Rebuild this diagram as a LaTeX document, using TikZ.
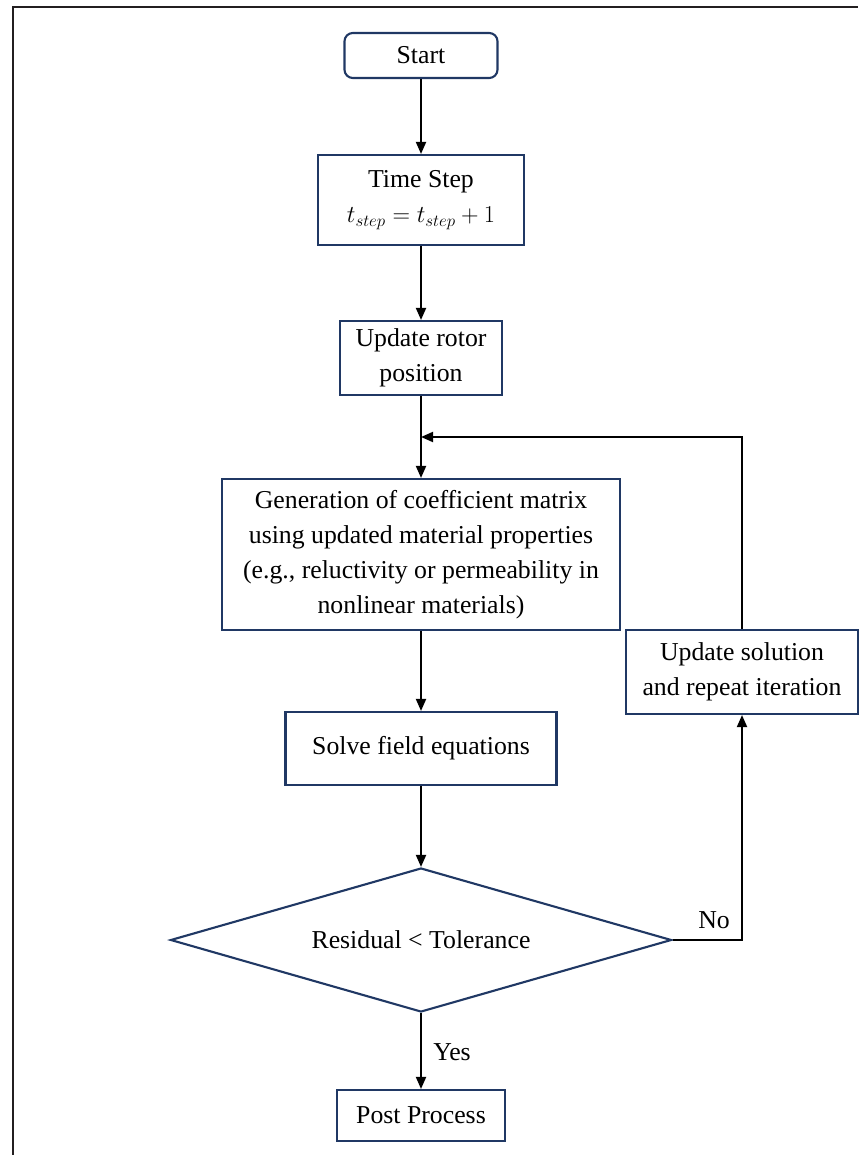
\documentclass[tikz,border=0pt]{standalone}
\usepackage{fontspec}
\setmainfont{Liberation Serif}
\usetikzlibrary{shapes.geometric,arrows.meta}
\definecolor{boxline}{HTML}{203864}
\definecolor{frameline}{HTML}{231F20}

\begin{document}
\begin{tikzpicture}[x=0.03cm, y=-0.03cm, >={Triangle[length=0.36cm,width=0.3cm]},
    box/.style={draw=boxline, line width=1.8pt, fill=white, align=center, inner sep=2pt, font=\fontsize{22}{30}\selectfont},
    flow/.style={->, line width=1.6pt, color=black},
    lbl/.style={font=\fontsize{22}{30}\selectfont}]
    \useasboundingbox (0,0) rectangle (858,1155);
    \draw[line width=2.4pt, color=frameline] (13,1155) -- (13,7) -- (858,7);

    % main column
    \node[box, rounded corners=0.25cm, minimum width=4.59cm, minimum height=1.35cm] (start) at (421,55.5) {Start};
    \node[box, minimum width=6.18cm, minimum height=2.7cm] (timestep) at (421,200) {Time Step\\$t_{step} = t_{step} + 1$};
    \node[box, minimum width=4.86cm, minimum height=2.22cm] (rotor) at (421,358) {Update rotor\\position};
    \node[box, minimum width=11.94cm, minimum height=4.53cm] (coeff) at (421,554.5) {Generation of coefficient matrix\\using updated material properties\\(e.g., reluctivity or permeability in\\nonlinear materials)};
    \node[box, minimum width=8.13cm, minimum height=2.19cm] (solve) at (421,748.5) {Solve field equations};
    \node[box, diamond, shape aspect=3.48, inner sep=0pt, minimum width=15.03cm, minimum height=4.32cm] (check) at (421,940) {Residual < Tolerance};
    \node[box, minimum width=5.04cm, minimum height=1.53cm] (post) at (421,1115.5) {Post Process};

    % iteration loop
    \node[box, minimum width=6.96cm, minimum height=2.52cm] (update) at (742,672) {Update solution\\and repeat iteration};
    \coordinate (join) at (421,437);

    \draw[flow] (start) -- (timestep);
    \draw[flow] (timestep) -- (rotor);
    \draw[flow] (rotor) -- (coeff);
    \draw[flow] (coeff) -- (solve);
    \draw[flow] (solve) -- (check);
    \draw[flow] (check) -- (post);
    \draw[flow] (check.east) -| (update.south);
    \draw[flow] (update.north) |- (join);

    \node[lbl] (lblno) at (714,920) {No};
    \node[lbl] (lblyes) at (452,1052) {Yes};
\end{tikzpicture}
\end{document}
